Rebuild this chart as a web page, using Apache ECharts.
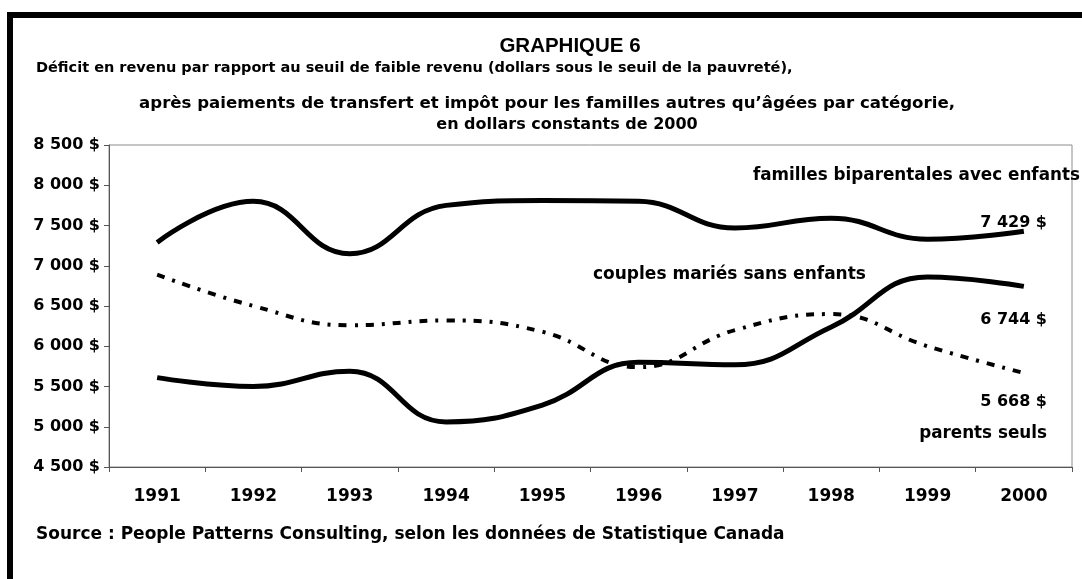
<!DOCTYPE html>
<html lang="fr">
<head>
    <meta charset="UTF-8">
    <script src="https://cdn.jsdelivr.net/npm/echarts@6/dist/echarts.min.js"></script>
    <title>Graphique 6</title>
    <style>
        html,body{
            height:100%;
            width:100%;
            margin:0;
            padding:0;
            background:#fff;
        }
    </style>
</head>
<body>
    <div id="main" style="width:1082px;height:579px"></div>
    <script>
        // données
        var annees = ['1991','1992','1993','1994','1995','1996','1997','1998','1999','2000'];
        var biparentales = [7290, 7800, 7150, 7750, 7810, 7800, 7470, 7590, 7330, 7429];
        var couples = [5610, 5500, 5690, 5060, 5270, 5800, 5770, 6240, 6860, 6744];
        var parentsSeuls = [6890, 6500, 6260, 6320, 6180, 5740, 6200, 6400, 6000, 5668];

        var police = 'DejaVu Sans, Verdana, sans-serif';
        var policeTitre = 'Liberation Sans, Arial, sans-serif';

        function fmt(v){
            return String(v).replace(/\B(?=(\d{3})+(?!\d))/g, ' ') + ' $';
        }

        // texte placé par son centre vertical
        function texte(t, x, y, size, align, fam){
            return {
                type: 'text',
                x: x, y: y,
                style: {
                    text: t,
                    fontFamily: fam || police,
                    fontWeight: 'bold',
                    fontSize: size,
                    fill: '#000',
                    textAlign: align || 'left',
                    textVerticalAlign: 'middle'
                }
            };
        }

        var myChart = echarts.init(document.getElementById('main'));

        var option = {
            animation: false,
            backgroundColor: '#fff',
            grid: { left: 109, top: 145, width: 963, height: 322, containLabel: false,
                    show: true, borderColor: '#8c8c8c', borderWidth: 1 },
            xAxis: {
                type: 'category',
                data: annees,
                boundaryGap: true,
                axisLine: { lineStyle: { color: '#555', width: 1 } },
                axisTick: { show: true, length: 5, lineStyle: { color: '#555' } },
                axisLabel: { margin: 21, fontFamily: police, fontWeight: 'bold', fontSize: 17, color: '#000' },
                splitLine: { show: false }
            },
            yAxis: {
                type: 'value',
                min: 4500, max: 8500, interval: 500,
                axisLine: { show: true, lineStyle: { color: '#555', width: 1 } },
                axisTick: { show: true, length: 5, lineStyle: { color: '#555' } },
                axisLabel: { margin: 9, fontFamily: police, fontWeight: 'bold', fontSize: 16, color: '#000',
                             formatter: function(v){ return fmt(v); } },
                splitLine: { show: false }
            },
            series: [
                {
                    name: 'familles biparentales avec enfants',
                    type: 'line', data: biparentales, smooth: 0.45,
                    symbol: 'none',
                    lineStyle: { color: '#000', width: 5 }
                },
                {
                    name: 'couples mariés sans enfants',
                    type: 'line', data: couples, smooth: 0.45,
                    symbol: 'none',
                    lineStyle: { color: '#000', width: 5 }
                },
                {
                    name: 'parents seuls',
                    type: 'line', data: parentsSeuls, smooth: 0.45,
                    symbol: 'none',
                    lineStyle: { color: '#000', width: 4, type: [8, 8, 3, 8], cap: 'butt' }
                }
            ],
            graphic: [
                {
                    type: 'rect',
                    shape: { x: 10, y: 15, width: 1100, height: 620 },
                    style: { fill: 'none', stroke: '#000', lineWidth: 6 }
                },
                texte('GRAPHIQUE 6', 570, 46, 20.5, 'center', policeTitre),
                texte('Déficit en revenu par rapport au seuil de faible revenu (dollars sous le seuil de la pauvreté),', 36, 68, 14.5),
                texte('après paiements de transfert et impôt pour les familles autres qu’âgées par catégorie,', 547, 104, 16.6, 'center'),
                texte('en dollars constants de 2000', 567, 125, 16, 'center'),
                texte('familles biparentales avec enfants', 753, 176, 16.8),
                texte(fmt(biparentales[9]), 1047, 223, 16, 'right'),
                texte('couples mariés sans enfants', 593, 275, 17),
                texte(fmt(couples[9]), 1047, 320, 16, 'right'),
                texte(fmt(parentsSeuls[9]), 1047, 402, 16, 'right'),
                texte('parents seuls', 1047, 434, 16.8, 'right'),
                texte('Source : People Patterns Consulting, selon les données de Statistique Canada', 36, 535, 17)
            ]
        };

        myChart.setOption(option);
    </script>
</body>
</html>
